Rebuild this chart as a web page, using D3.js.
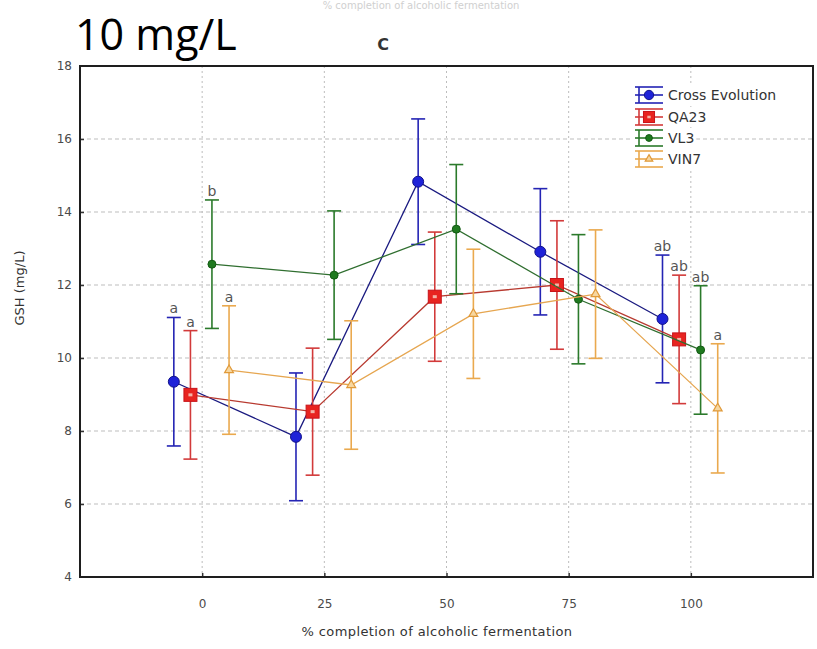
<!DOCTYPE html>
<html>
<head>
<meta charset="utf-8">
<script src="https://cdn.jsdelivr.net/npm/d3@7"></script>
<style>
  html, body { margin: 0; padding: 0; background: #fff; }
  svg { display: block; }
</style>
</head>
<body>
<svg id="chart" width="817" height="649"></svg>
<script>
// Fermentation stage (% completion) and GSH means with their error half-widths
const categories = [0, 25, 50, 75, 100];
const xTicks = [0, 25, 50, 75, 100];
const yTicks = [4, 6, 8, 10, 12, 14, 16, 18];
const seriesNames = ["Cross Evolution", "QA23", "VL3", "VIN7"];

const crossEvolution    = [9.35, 7.84, 14.83, 12.91, 11.07];
const crossEvolutionErr = [1.76, 1.75, 1.72, 1.73, 1.75];
const qa23              = [8.99, 8.53, 11.68, 12.00, 10.51];
const qa23Err           = [1.76, 1.74, 1.77, 1.76, 1.76];
const vl3               = [12.57, 12.27, 13.53, 11.61, 10.22];
const vl3Err            = [1.76, 1.76, 1.77, 1.77, 1.76];
const vin7              = [9.67, 9.26, 11.21, 11.75, 8.62];
const vin7Err           = [1.76, 1.76, 1.77, 1.76, 1.77];

// Significance letters at the start and end of fermentation
const lettersFirst = ["a", "a", "b", "a"];
const lettersLast  = ["ab", "ab", "ab", "a"];

const svg = d3.select("#chart");
const M = { left: 80, right: 813, top: 66, bottom: 577 };

const x = d3.scaleLinear().domain([-25, 125]).range([M.left, M.right]);
const y = d3.scaleLinear().domain([4, 18]).range([M.bottom, M.top]);

// small horizontal offsets so the four series do not overlap at each stage
const dodge = [-5.8, -2.4, 2.0, 5.5];

const series = [
  { name: seriesNames[0], values: crossEvolution, err: crossEvolutionErr, line: "#1a1a80", bar: "#2424b4", fill: "#1e22d8", stroke: "#12128a", shape: "circle" },
  { name: seriesNames[1], values: qa23, err: qa23Err, line: "#b83a30", bar: "#d23a3a", fill: "#e82420", stroke: "#c8141a", shape: "square" },
  { name: seriesNames[2], values: vl3, err: vl3Err, line: "#2f6e2f", bar: "#2b7a2b", fill: "#1f7a1f", stroke: "#145a14", shape: "dot" },
  { name: seriesNames[3], values: vin7, err: vin7Err, line: "#e6a650", bar: "#eaa94e", fill: "#f7d7a0", stroke: "#e09a3a", shape: "triangle" }
];

const FONT = "DejaVu Sans, sans-serif";

// faint title fragment at the very top
svg.append("text")
  .attr("x", 421).attr("y", 9)
  .attr("text-anchor", "middle")
  .attr("font-family", FONT)
  .attr("font-size", 10)
  .attr("fill", "#d0d0d0")
  .text("% completion of alcoholic fermentation");

// panel titles
svg.append("text")
  .attr("x", 75).attr("y", 50)
  .attr("font-family", "Open Sans, sans-serif")
  .attr("font-size", 43)
  .attr("fill", "#000")
  .text("10 mg/L");

svg.append("text")
  .attr("x", 383).attr("y", 50)
  .attr("text-anchor", "middle")
  .attr("font-family", FONT)
  .attr("font-size", 16)
  .attr("font-weight", "bold")
  .attr("fill", "#333")
  .text("C");

// grid
const grid = svg.append("g");
grid.selectAll("line.h").data(yTicks.filter(t => t > 4 && t < 18)).join("line")
  .attr("x1", M.left).attr("x2", M.right)
  .attr("y1", d => y(d)).attr("y2", d => y(d))
  .attr("stroke", "#bdbdbd").attr("stroke-width", 1)
  .attr("stroke-dasharray", "4,3");
grid.selectAll("line.v").data(xTicks).join("line")
  .attr("x1", d => x(d)).attr("x2", d => x(d))
  .attr("y1", M.top).attr("y2", M.bottom)
  .attr("stroke", "#bdbdbd").attr("stroke-width", 1)
  .attr("stroke-dasharray", "2,3");

// axes
const yAxis = d3.axisLeft(y).tickValues(yTicks).tickSize(-4).tickPadding(8);
const xAxis = d3.axisBottom(x).tickValues(xTicks).tickSize(-4).tickPadding(22);

const gy = svg.append("g").attr("transform", `translate(${M.left},0)`).call(yAxis);
const gx = svg.append("g").attr("transform", `translate(0,${M.bottom})`).call(xAxis);
[gx, gy].forEach(g => {
  g.select(".domain").remove();
  g.selectAll(".tick line").attr("stroke", "#333").attr("stroke-width", 1.5);
  g.selectAll(".tick text")
    .attr("font-family", FONT)
    .attr("font-size", 12)
    .attr("fill", "#4a4a4a");
});
gy.selectAll(".tick").filter(d => d === 4 || d === 18).select("line").remove();

// plot frame
svg.append("rect")
  .attr("x", M.left).attr("y", M.top)
  .attr("width", M.right - M.left).attr("height", M.bottom - M.top)
  .attr("fill", "none").attr("stroke", "#1e1e1e").attr("stroke-width", 2);

// axis titles
svg.append("text")
  .attr("x", 437).attr("y", 636)
  .attr("text-anchor", "middle")
  .attr("font-family", FONT)
  .attr("font-size", 13)
  .attr("letter-spacing", 0.4)
  .attr("fill", "#333")
  .text("% completion of alcoholic fermentation");

svg.append("text")
  .attr("transform", "translate(24,288) rotate(-90)")
  .attr("text-anchor", "middle")
  .attr("font-family", FONT)
  .attr("font-size", 13)
  .attr("fill", "#333")
  .text("GSH (mg/L)");

// marker drawing helper
function marker(g, s, cx, cy, scale) {
  const k = scale || 1;
  if (s.shape === "circle") {
    g.append("circle").attr("cx", cx).attr("cy", cy).attr("r", 5.5 * k)
      .attr("fill", s.fill).attr("stroke", s.stroke).attr("stroke-width", 1);
  } else if (s.shape === "square") {
    const h = 6.5 * k;
    g.append("rect").attr("x", cx - h).attr("y", cy - h).attr("width", 2 * h).attr("height", 2 * h)
      .attr("fill", s.fill).attr("stroke", s.stroke).attr("stroke-width", 1);
    g.append("rect").attr("x", cx - 2 * k).attr("y", cy - 1.5 * k).attr("width", 4 * k).attr("height", 3 * k)
      .attr("fill", "#f4b3a6");
  } else if (s.shape === "dot") {
    g.append("circle").attr("cx", cx).attr("cy", cy).attr("r", 4 * k)
      .attr("fill", s.fill).attr("stroke", s.stroke).attr("stroke-width", 1);
  } else {
    const tri = d3.symbol().type(d3.symbolTriangle).size(34 * k * k);
    g.append("path").attr("transform", `translate(${cx},${cy})`).attr("d", tri())
      .attr("fill", s.fill).attr("stroke", s.stroke).attr("stroke-width", 1.2);
  }
}

const plot = svg.append("g");
const cap = 7;

series.forEach((s, i) => {
  const pts = categories.map((c, j) => ({ x: x(c + dodge[i]), v: s.values[j], e: s.err[j] }));
  const g = plot.append("g");

  // connecting line
  g.append("path")
    .datum(pts)
    .attr("d", d3.line().x(d => d.x).y(d => y(d.v)))
    .attr("fill", "none").attr("stroke", s.line).attr("stroke-width", 1.3);

  // error bars
  pts.forEach(p => {
    const top = y(p.v + p.e), bot = y(p.v - p.e);
    g.append("line").attr("x1", p.x).attr("x2", p.x).attr("y1", top).attr("y2", bot)
      .attr("stroke", s.bar).attr("stroke-width", 1.6);
    [top, bot].forEach(yy => g.append("line")
      .attr("x1", p.x - cap).attr("x2", p.x + cap).attr("y1", yy).attr("y2", yy)
      .attr("stroke", s.bar).attr("stroke-width", 1.6));
  });

  // markers
  pts.forEach(p => marker(g, s, p.x, y(p.v)));

  // significance letters
  [[0, lettersFirst[i]], [categories.length - 1, lettersLast[i]]].forEach(([j, txt]) => {
    const p = pts[j];
    g.append("text")
      .attr("x", p.x).attr("y", y(p.v + p.e) - 4)
      .attr("text-anchor", "middle")
      .attr("font-family", FONT)
      .attr("font-size", 14)
      .attr("fill", "#555")
      .text(txt);
  });
});

// legend
const legendY = [95, 117, 138, 159];
const legend = svg.append("g");
series.forEach((s, i) => {
  const cy = legendY[i];
  const item = legend.append("g");
  const label = item.append("text")
    .attr("x", 668).attr("y", cy + 5)
    .attr("font-family", FONT)
    .attr("font-size", 14)
    .attr("fill", "#333")
    .text(s.name);
  const w = label.node().getComputedTextLength();
  item.insert("rect", "text")
    .attr("x", 633).attr("y", cy - 10).attr("width", 668 + w + 2 - 633).attr("height", 20)
    .attr("fill", "#fff");
  [-8, 8].forEach(dy => item.append("line")
    .attr("x1", 635).attr("x2", 663).attr("y1", cy + dy).attr("y2", cy + dy)
    .attr("stroke", s.bar).attr("stroke-width", 1.6));
  item.append("line").attr("x1", 635).attr("x2", 663).attr("y1", cy).attr("y2", cy)
    .attr("stroke", s.bar).attr("stroke-width", 1.6);
  item.append("line").attr("x1", 639).attr("x2", 639).attr("y1", cy - 8).attr("y2", cy + 8)
    .attr("stroke", s.bar).attr("stroke-width", 1.6);
  marker(item, s, 649, cy, 0.85);
});
</script>
</body>
</html>
